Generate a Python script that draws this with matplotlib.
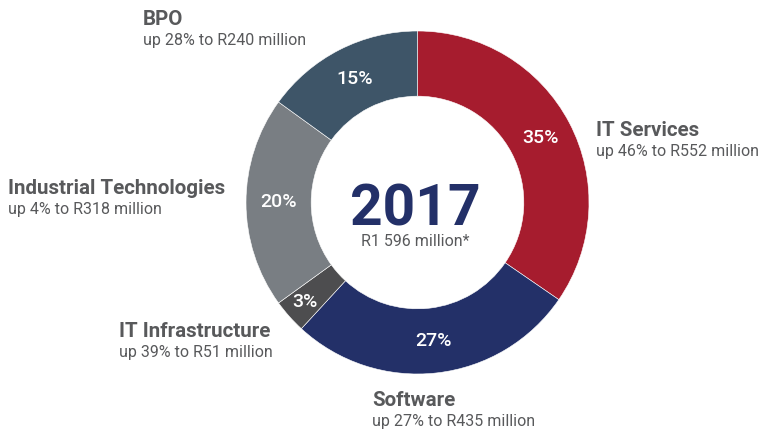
import matplotlib.pyplot as plt

plt.rcParams['font.family'] = ['Roboto', 'DejaVu Sans']

# segments, clockwise from the top
segments = ['IT Services', 'Software', 'IT Infrastructure', 'Industrial Technologies', 'BPO']
revenue = [552, 435, 51, 318, 240]          # R million
growth = [46, 27, 39, 4, 28]                 # % up
colors = ['#A61C2E', '#233068', '#4D4D4F', '#797E83', '#3E5568']
total_label = 'R1 596 million*'
year = '2017'

W, H = 766, 430
fig = plt.figure(figsize=(W / 100, H / 100), dpi=100)
ax = fig.add_axes([0, 0, 1, 1])
ax.set_xlim(0, W)
ax.set_ylim(0, H)
ax.set_aspect('equal')
ax.axis('off')

cx, cy, r = 417.5, H - 202.5, 171.5
wedges, texts, pcts = ax.pie(
    revenue, colors=colors, startangle=90, counterclock=False,
    center=(cx, cy), radius=r, autopct='%.0f%%', pctdistance=0.81,
    wedgeprops=dict(width=r * 0.38, edgecolor='white', linewidth=0.4),
    textprops=dict(color='white', fontsize=14, fontweight='medium'))
ax.set_xlim(0, W)
ax.set_ylim(0, H)

# the small slice label sits a little further out
x, y = pcts[2].get_position()
pcts[2].set_position((cx + (x - cx) * 1.08, cy + (y - cy) * 1.08))

ax.text(cx - 2, H - 225, year, ha='center', va='baseline', fontsize=41,
        fontweight='bold', color='#233068')
ax.text(cx - 2, H - 246, total_label, ha='center', va='baseline', fontsize=11.5,
        color='#58595B')

# label anchors: left x, baseline of the title (pixels from top)
anchors = [(596, 136), (372, 406), (119, 337), (8, 194), (143, 25)]
for name, val, g, (lx, ly) in zip(segments, revenue, growth, anchors):
    ax.text(lx, H - ly, name, ha='left', va='baseline', fontsize=14.8,
            fontweight='bold', color='#58595B')
    ax.text(lx, H - ly - 20, f'up {g}% to R{val} million', ha='left',
            va='baseline', fontsize=11.5, color='#58595B')

fig.savefig('out.png', dpi=100)
